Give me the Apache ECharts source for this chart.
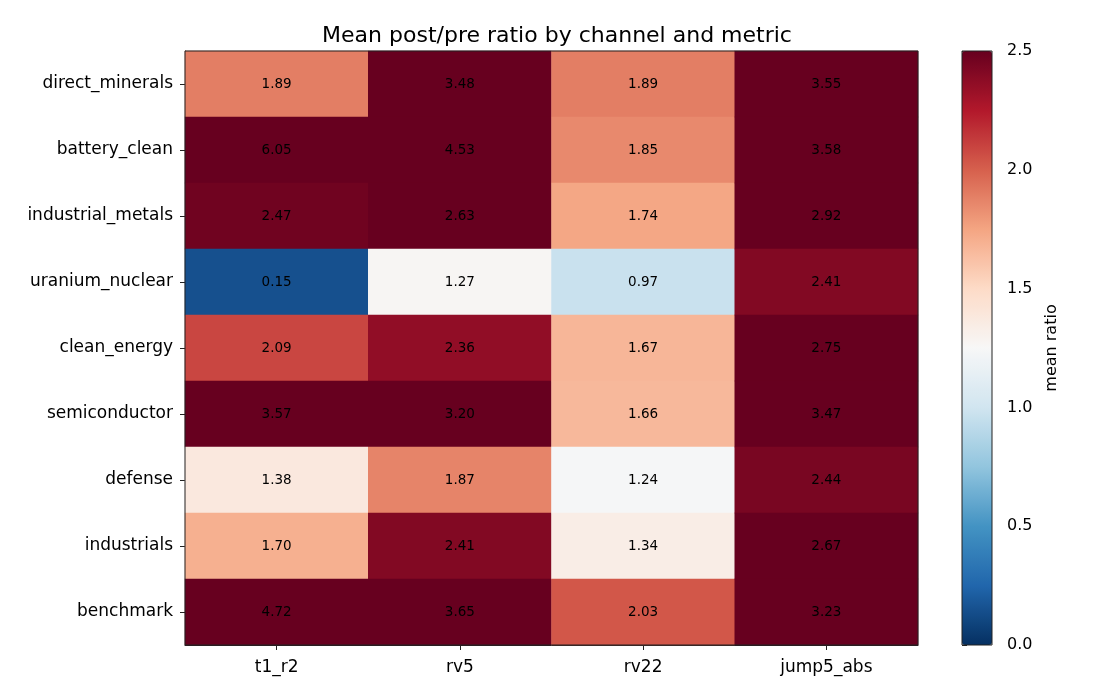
<!DOCTYPE html>
<html>
<head>
<meta charset="utf-8">
<script src="https://cdn.jsdelivr.net/npm/echarts@6/dist/echarts.min.js"></script>
<style>
  html, body { margin: 0; padding: 0; background: #ffffff; }
  #main { width: 1120px; height: 700px; }
</style>
</head>
<body>
<div id="main"></div>
<script>
// heatmap data, rows top to bottom
var channels = ["direct_minerals", "battery_clean", "industrial_metals", "uranium_nuclear",
    "clean_energy", "semiconductor", "defense", "industrials", "benchmark"];
var metrics = ["t1_r2", "rv5", "rv22", "jump5_abs"];
var t1R2 = [1.89, 6.05, 2.47, 0.15, 2.09, 3.57, 1.38, 1.70, 4.72];
var rv5 = [3.48, 4.53, 2.63, 1.27, 2.36, 3.20, 1.87, 2.41, 3.65];
var rv22 = [1.89, 1.85, 1.74, 0.97, 1.67, 1.66, 1.24, 1.34, 2.03];
var jump5Abs = [3.55, 3.58, 2.92, 2.41, 2.75, 3.47, 2.44, 2.67, 3.23];

// matplotlib RdBu_r
var rdbuR = ["#053061", "#2166ac", "#4393c3", "#92c5de", "#d1e5f0", "#f7f7f7",
    "#fddbc7", "#f4a582", "#d6604d", "#b2182b", "#67001f"];

var cols = [t1R2, rv5, rv22, jump5Abs];
var cells = [];
cols.forEach(function (vals, ci) {
    vals.forEach(function (v, ri) {
        cells.push([ci, ri, v]);
    });
});

var font = "DejaVu Sans";
var chart = echarts.init(document.getElementById("main"), null, { renderer: "canvas" });

var option = {
    backgroundColor: "#ffffff",
    animation: false,
    textStyle: { fontFamily: font },
    title: {
        text: "Mean post/pre ratio by channel and metric",
        left: 552,
        textAlign: "center",
        top: 20,
        textStyle: { fontFamily: font, fontSize: 22, fontWeight: "normal", color: "#000" }
    },
    grid: [
        { left: 185, right: 202, top: 51, bottom: 55, show: true, borderColor: "#222", borderWidth: 1, backgroundColor: "transparent", z: 5 },
        { left: 962, width: 30, top: 51, bottom: 55, show: true, borderColor: "#222", borderWidth: 1, backgroundColor: "transparent", z: 5 }
    ],
    xAxis: [
        {
            type: "category", gridIndex: 0, data: metrics,
            axisLine: { lineStyle: { color: "#222" } },
            axisTick: { show: true, alignWithLabel: true, length: 5, lineStyle: { color: "#222" } },
            axisLabel: { color: "#000", fontSize: 17, margin: 14, interval: 0 },
            splitArea: { show: false }, splitLine: { show: false }
        },
        {
            type: "value", gridIndex: 1, show: false, min: 0, max: 1
        }
    ],
    yAxis: [
        {
            type: "category", gridIndex: 0, data: channels, inverse: true,
            axisLine: { lineStyle: { color: "#222" } },
            axisTick: { show: true, alignWithLabel: true, length: 5, lineStyle: { color: "#222" } },
            axisLabel: { color: "#000", fontSize: 17, margin: 12, interval: 0 },
            splitArea: { show: false }, splitLine: { show: false }
        },
        {
            type: "value", gridIndex: 1, position: "right", min: 0, max: 2.5, interval: 0.5,
            axisLine: { show: false },
            axisTick: { show: true, length: 5, lineStyle: { color: "#222" } },
            axisLabel: { color: "#000", fontSize: 16, margin: 15, formatter: function (v) { return v.toFixed(1); } },
            splitLine: { show: false },
            name: "mean ratio", nameLocation: "middle", nameRotate: 90, nameGap: 52,
            nameTextStyle: { color: "#000", fontSize: 16 }
        }
    ],
    visualMap: {
        type: "continuous",
        min: 0, max: 2.5,
        seriesIndex: 0,
        calculable: false,
        showLabel: false,
        text: null,
        orient: "vertical",
        left: 962, top: 51,
        padding: 0,
        itemWidth: 30, itemHeight: 594,
        inRange: { color: rdbuR }
    },
    series: [
        {
            type: "heatmap",
            xAxisIndex: 0, yAxisIndex: 0,
            data: cells,
            label: {
                show: true, color: "#000", fontSize: 13.5,
                formatter: function (p) { return p.value[2].toFixed(2); }
            },
            itemStyle: { borderWidth: 0 },
            emphasis: { disabled: true }
        }
    ]
};

chart.setOption(option);
</script>
</body>
</html>
